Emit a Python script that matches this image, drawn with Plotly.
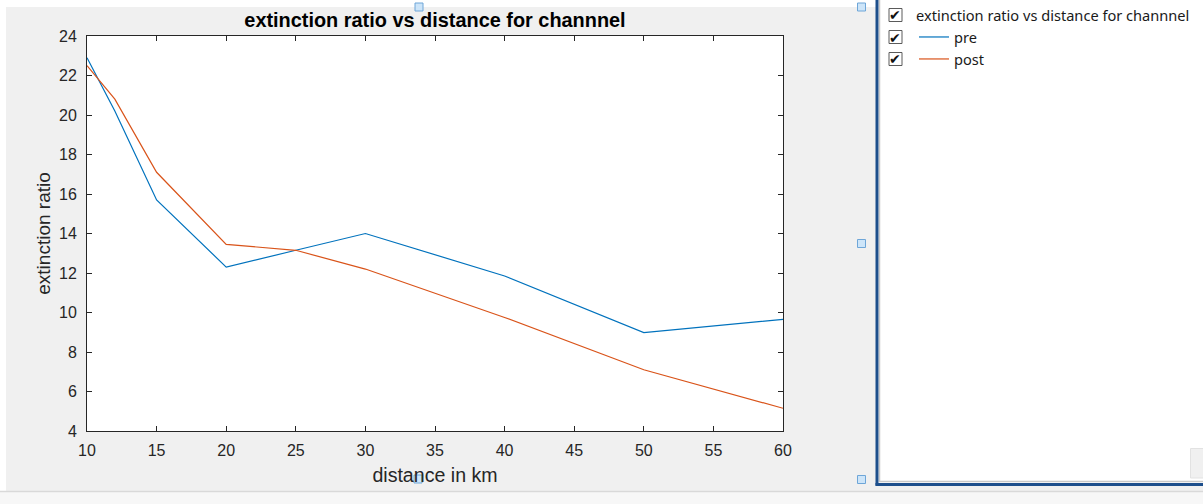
import plotly.graph_objects as go

# ---------------- data ----------------
distance_km = [10, 12, 15, 20, 25, 30, 40, 50, 60]
pre_values = [22.9, 20.2, 15.7, 12.3, 13.15, 14.0, 11.85, 8.98, 9.65]
post_values = [22.5, 20.8, 17.1, 13.45, 13.15, 12.2, 9.75, 7.1, 5.15]
series_names = ["pre", "post"]
x_ticks = [10, 15, 20, 25, 30, 35, 40, 45, 50, 55, 60]
y_ticks = [4, 6, 8, 10, 12, 14, 16, 18, 20, 22, 24]
chart_title = "extinction ratio vs distance for channnel"
x_label = "distance in km"
y_label = "extinction ratio"

# ---------------- geometry ----------------
W, H = 1203, 504
L, R, T, B = 87, 783, 36, 431


def px(x):
    return (x - L) / (R - L)


def py(y):
    return (B - y) / (B - T)


AX = "#262626"
FONT = "Liberation Sans, Arial, sans-serif"
UIFONT = "Noto Sans, Open Sans, sans-serif"

fig = go.Figure()
fig.add_trace(go.Scatter(x=distance_km, y=pre_values, mode="lines", name=series_names[0],
                         line=dict(color="#0072BD", width=1.2), legendgroup="a"))
fig.add_trace(go.Scatter(x=distance_km, y=post_values, mode="lines", name=series_names[1],
                         line=dict(color="#D95319", width=1.2), legendgroup="b"))

axis_common = dict(showline=True, linecolor=AX, linewidth=1, mirror="ticks",
                   ticks="inside", ticklen=5, tickcolor=AX, tickwidth=1,
                   showgrid=False, zeroline=False,
                   tickfont=dict(family=FONT, size=16, color=AX))

fig.update_xaxes(range=[10, 60], tickvals=x_ticks, ticklabelstandoff=5,
                 title=dict(text=x_label, font=dict(family=FONT, size=19.6, color=AX), standoff=10),
                 **axis_common)
fig.update_yaxes(range=[4, 24], tickvals=y_ticks, ticklabelstandoff=6,
                 title=dict(text=y_label, font=dict(family=FONT, size=19, color=AX), standoff=3),
                 **axis_common)

shapes = []
# white frame strips around the grey figure area
shapes.append(dict(type="rect", xref="paper", yref="paper", x0=px(0), x1=px(W), y0=py(0), y1=py(7),
                   fillcolor="white", line=dict(width=0), layer="below"))
shapes.append(dict(type="rect", xref="paper", yref="paper", x0=px(0), x1=px(6), y0=py(0), y1=py(491),
                   fillcolor="white", line=dict(width=0), layer="below"))
# bottom strip
shapes.append(dict(type="rect", xref="paper", yref="paper", x0=px(0), x1=px(W), y0=py(491), y1=py(H),
                   fillcolor="#f7f7f7", line=dict(width=0), layer="below"))
shapes.append(dict(type="line", xref="paper", yref="paper", x0=px(0), x1=px(W), y0=py(491.5), y1=py(491.5),
                   line=dict(color="#d9d9d9", width=1.5)))
# right legend panel
shapes.append(dict(type="rect", xref="paper", yref="paper", x0=px(876), x1=px(W), y0=py(0), y1=py(484),
                   fillcolor="white", line=dict(width=0), layer="below"))
shapes.append(dict(type="line", xref="paper", yref="paper", x0=px(879.5), x1=px(879.5), y0=py(0), y1=py(481.5),
                   line=dict(color="#c8c8c8", width=1.5)))
shapes.append(dict(type="line", xref="paper", yref="paper", x0=px(879), x1=px(W), y0=py(481.5), y1=py(481.5),
                   line=dict(color="#c8c8c8", width=1.5)))
shapes.append(dict(type="line", xref="paper", yref="paper", x0=px(877), x1=px(877), y0=py(0), y1=py(485.5),
                   line=dict(color="#1d4f8c", width=3)))
shapes.append(dict(type="line", xref="paper", yref="paper", x0=px(875.5), x1=px(W), y0=py(484.5), y1=py(484.5),
                   line=dict(color="#1d4f8c", width=3)))
# small button in panel corner
shapes.append(dict(type="rect", xref="paper", yref="paper", x0=px(1190.5), x1=px(1210), y0=py(448.5), y1=py(478),
                   fillcolor="#f0f0f0", line=dict(color="#e2e2e2", width=1)))
# selection handles
for cx, cy in [(419, 7), (861.5, 7), (861.5, 243.5), (861.5, 479.5), (418, 479)]:
    shapes.append(dict(type="rect", xref="paper", yref="paper", x0=px(cx - 4), x1=px(cx + 4),
                       y0=py(cy - 4), y1=py(cy + 4),
                       fillcolor="#cde5f9", line=dict(color="#6ea6d8", width=1)))
# checkboxes
annotations = []
for cy in [15, 37, 59]:
    shapes.append(dict(type="rect", xref="paper", yref="paper", x0=px(889), x1=px(902),
                       y0=py(cy - 6.5), y1=py(cy + 6.5),
                       fillcolor="white", line=dict(color="#5a5a5a", width=1)))
    annotations.append(dict(xref="paper", yref="paper", x=px(895.5), y=py(cy + 0.5), text="<b>✔</b>",
                            showarrow=False, xanchor="center", yanchor="middle",
                            font=dict(family="DejaVu Sans", size=14, color="#111111")))

fig.update_layout(
    width=W, height=H,
    margin=dict(l=L, r=W - R, t=T, b=H - B, pad=0),
    paper_bgcolor="#f0f0f0", plot_bgcolor="white",
    title=dict(text="<b>" + chart_title + "</b>", x=0.5, xref="paper", xanchor="center",
               y=1 - 20 / H, yref="container", yanchor="middle",
               font=dict(family=FONT, size=19.9, color="#000000")),
    showlegend=True,
    legend=dict(x=914 / W, y=1 - 2 / H, xref="container", yref="container",
                xanchor="left", yanchor="top",
                bgcolor="rgba(0,0,0,0)", borderwidth=0,
                title=dict(text=chart_title, side="top", font=dict(family=UIFONT, size=14.6, color="#1a1a1a")),
                font=dict(family=UIFONT, size=14.6, color="#1a1a1a"),
                tracegroupgap=0, itemclick=False, itemdoubleclick=False),
    shapes=shapes,
    annotations=annotations,
)

fig.write_html("out.html")
